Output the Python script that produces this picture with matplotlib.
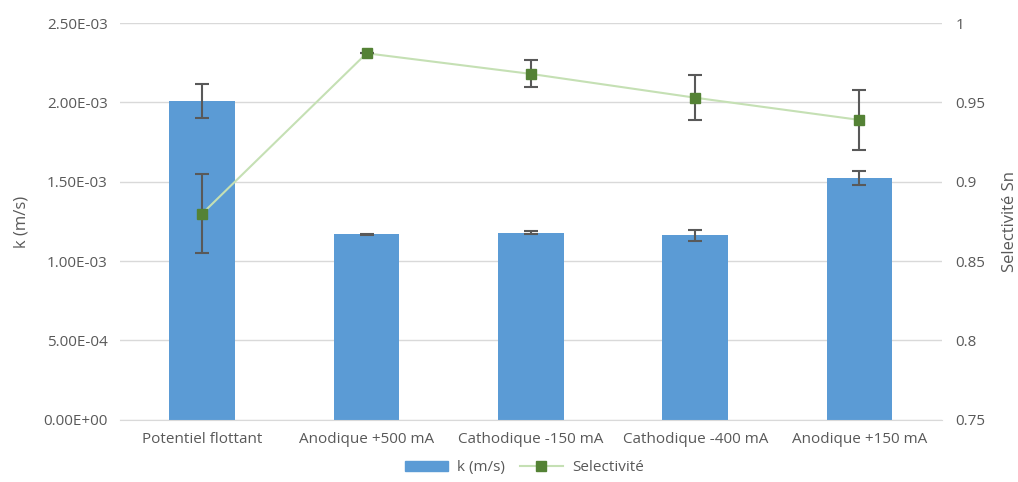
import numpy as np
import matplotlib.pyplot as plt
from matplotlib.ticker import FuncFormatter
from matplotlib.lines import Line2D
from matplotlib.patches import Patch

plt.rcParams['font.family'] = ['Open Sans', 'DejaVu Sans']

# Data
categories = ['Potentiel flottant', 'Anodique +500 mA', 'Cathodique -150 mA',
              'Cathodique -400 mA', 'Anodique +150 mA']
k_values = [2.01e-3, 1.168e-3, 1.18e-3, 1.162e-3, 1.524e-3]
k_err = [0.105e-3, 0.006e-3, 0.012e-3, 0.035e-3, 0.045e-3]
selectivite = [0.880, 0.981, 0.968, 0.953, 0.939]
select_err = [0.025, 0.0, 0.0085, 0.014, 0.019]

grey = '#595959'
x = np.arange(len(categories))

fig = plt.figure(figsize=(10.18, 4.82), dpi=100)
ax = fig.add_axes([0.118, 0.129, 0.807, 0.823])
ax2 = ax.twinx()

# Bars with error bars
ax.bar(x, k_values, width=0.4, color='#5B9BD5', zorder=2)
ax.errorbar(x, k_values, yerr=k_err, fmt='none', ecolor=grey, elinewidth=1.5,
            capsize=5, capthick=1.5, zorder=3)
ax.set_ylim(0, 2.5e-3)
ax.set_yticks(np.arange(0, 2.51e-3, 0.5e-3))
ax.yaxis.set_major_formatter(FuncFormatter(lambda v, p: f'{v:.2E}'))
ax.set_xlim(-0.5, len(categories) - 0.5)
ax.set_xticks(x)
ax.set_xticklabels(categories)
ax.grid(axis='y', color='#D9D9D9', linewidth=1, zorder=0)
ax.set_axisbelow(True)
ax.set_ylabel('k (m/s)', color=grey, fontsize=12, labelpad=10)

# Selectivity line
ax2.plot(x, selectivite, color='#C5E0B4', linewidth=1.5, zorder=3)
ax2.errorbar(x, selectivite, yerr=select_err, fmt='none', ecolor=grey, elinewidth=1.5,
             capsize=5, capthick=1.5, zorder=4)
ax2.plot(x, selectivite, linestyle='none', marker='s', markersize=7,
         color='#548235', zorder=5)
ax2.set_ylim(0.75, 1.0)
ax2.set_yticks(np.arange(0.75, 1.001, 0.05))
ax2.yaxis.set_major_formatter(FuncFormatter(lambda v, p: f'{v:g}'))
ax2.set_ylabel('Selectivité Sn', color=grey, fontsize=12, labelpad=12)

for a in (ax, ax2):
    for s in a.spines.values():
        s.set_visible(False)
    a.tick_params(length=0, colors=grey, labelsize=11)
ax.spines['bottom'].set_visible(True)
ax.spines['bottom'].set_color('#D9D9D9')
ax.tick_params(axis='x', pad=9)
ax.tick_params(axis='y', pad=9)
ax2.tick_params(axis='y', pad=10)

handles = [Patch(color='#5B9BD5'),
           Line2D([0], [0], color='#C5E0B4', linewidth=1.5, marker='s',
                  markersize=7, markerfacecolor='#548235', markeredgecolor='#548235')]
fig.legend(handles, ['k (m/s)', 'Selectivité'], loc='lower center', ncol=2,
           frameon=False, fontsize=11, labelcolor=grey, bbox_to_anchor=(0.515, -0.015),
           handlelength=2.8, handletextpad=0.6, columnspacing=1.0)

fig.savefig('out.png', dpi=100)
